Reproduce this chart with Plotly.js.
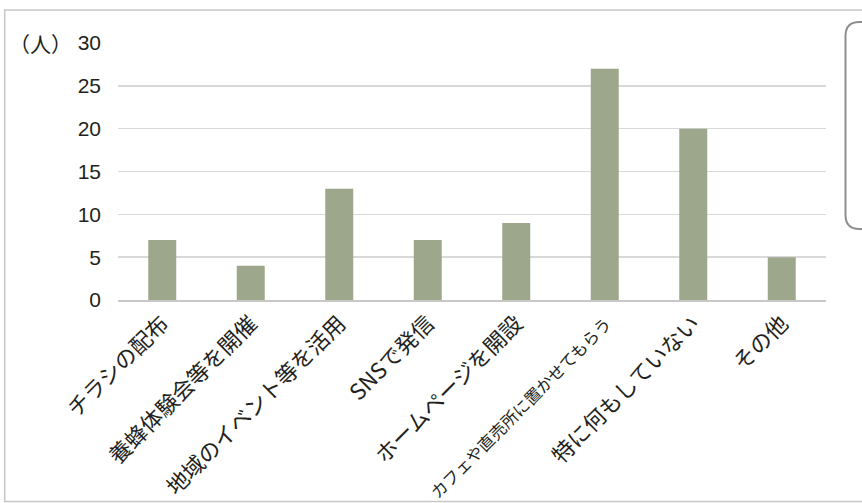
<!DOCTYPE html>
<html>
<head>
<meta charset="utf-8">
<script src="https://cdn.plot.ly/plotly-3.0.1.min.js"></script>
<style>
  html, body { margin: 0; padding: 0; background: #ffffff; }
  #chart { width: 862px; height: 503px; }
</style>
</head>
<body>
<div id="chart"></div>
<script>
// Promotion methods and number of respondents
const categories = [
  'チラシの配布',
  '養蜂体験会等を開催',
  '地域のイベント等を活用',
  'SNSで発信',
  'ホームページを開設',
  'カフェや直売所に置かせてもらう',
  '特に何もしていない',
  'その他'
];
const counts = [7, 4, 13, 7, 9, 27, 20, 5];
const yTicks = [0, 5, 10, 15, 20, 25, 30];
const unitLabel = '（人）';

// Plot-area geometry in pixels (used to place the frame and the key box)
const W = 862, H = 503;
const M = { l: 118, r: 36, t: 43, b: 203 };
const PW = W - M.l - M.r, PH = H - M.t - M.b;
const px = x => (x - M.l) / PW;
const py = y => (H - M.b - y) / PH;

// Long labels are set in a smaller size so they fit under the axis
const tickText = categories.map(c =>
  c.length > 12 ? '<span style="font-size:16.5px">' + c + '</span>' : c);

const jpFont = '"Noto Sans CJK JP", "Liberation Sans", Arial, sans-serif';

// Rounded key box on the right edge
function roundedBox(x0, y0, x1, y1, r) {
  const rx = r / PW, ry = r / PH;
  const X0 = px(x0), X1 = px(x1), Y0 = py(y0), Y1 = py(y1);
  return 'M ' + X1 + ',' + Y0 +
    ' L ' + (X0 + rx) + ',' + Y0 +
    ' Q ' + X0 + ',' + Y0 + ' ' + X0 + ',' + (Y0 - ry) +
    ' L ' + X0 + ',' + (Y1 + ry) +
    ' Q ' + X0 + ',' + Y1 + ' ' + (X0 + rx) + ',' + Y1 +
    ' L ' + X1 + ',' + Y1;
}

const trace = {
  type: 'bar',
  x: categories,
  y: counts,
  marker: { color: '#9ca78b', line: { width: 0 } },
  hoverinfo: 'x+y'
};

const layout = {
  width: W,
  height: H,
  margin: M,
  paper_bgcolor: '#ffffff',
  plot_bgcolor: '#ffffff',
  showlegend: false,
  bargap: 0.684,
  font: { family: jpFont, color: '#231f20', size: 20 },
  xaxis: {
    type: 'category',
    tickvals: categories,
    ticktext: tickText,
    tickangle: -45,
    tickfont: { family: jpFont, size: 22, color: '#231f20' },
    showgrid: false,
    showline: true,
    linecolor: '#c8c8c8',
    linewidth: 2,
    ticks: '',
    fixedrange: true
  },
  yaxis: {
    range: [0, 30],
    tickvals: yTicks,
    ticks: '',
    tickfont: { family: '"Liberation Sans", Arial, sans-serif', size: 21, color: '#231f20' },
    ticklabelstandoff: 16,
    showgrid: true,
    gridcolor: '#d9d9d9',
    gridwidth: 1.4,
    zeroline: false,
    showline: false,
    fixedrange: true
  },
  annotations: [{
    text: unitLabel,
    xref: 'paper', yref: 'y',
    x: 0, y: 30,
    xanchor: 'right', yanchor: 'middle',
    xshift: -44,
    showarrow: false,
    font: { family: jpFont, size: 21, color: '#231f20' }
  }],
  shapes: [
    {
      type: 'rect', xref: 'paper', yref: 'paper',
      x0: px(4.7), x1: px(880), y0: py(10), y1: py(501.5),
      line: { color: '#c6c6c6', width: 1.5 },
      fillcolor: 'rgba(0,0,0,0)', layer: 'below'
    },
    {
      type: 'path', xref: 'paper', yref: 'paper',
      path: roundedBox(845.5, 22, 890, 229, 14),
      line: { color: '#8e8e8e', width: 2 },
      fillcolor: 'rgba(0,0,0,0)'
    }
  ]
};

Plotly.newPlot('chart', [trace], layout, { displayModeBar: false, staticPlot: true });
</script>
</body>
</html>
